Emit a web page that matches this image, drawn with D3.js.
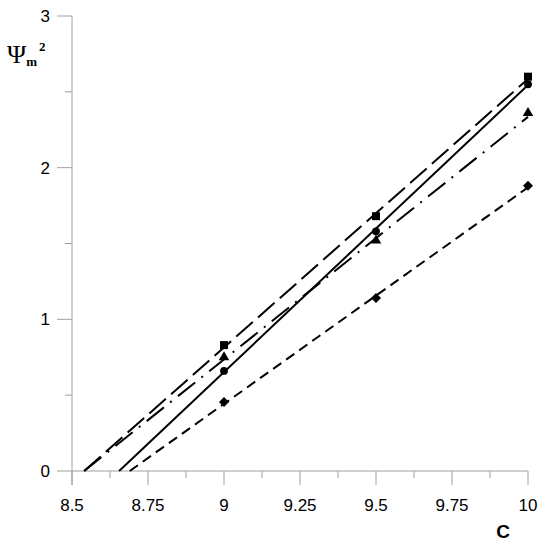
<!DOCTYPE html>
<html>
<head>
<meta charset="utf-8">
<script src="https://cdn.jsdelivr.net/npm/d3@7"></script>
<style>
  body { margin: 0; background: #fff; }
  svg { display: block; }
</style>
</head>
<body>
<div id="chart"></div>
<script>
// values
const cValues = [9, 9.5, 10];
const squareValues = [0.83, 1.68, 2.60];
const triangleValues = [0.75, 1.52, 2.36];
const circleValues = [0.66, 1.58, 2.55];
const diamondValues = [0.455, 1.14, 1.88];

// fitted lines, endpoints [c, psi]
const squareLine = [[8.54, 0], [10, 2.585]];
const triangleLine = [[8.54, 0], [10, 2.335]];
const circleLine = [[8.655, 0], [10, 2.545]];
const diamondLine = [[8.69, 0], [10, 1.87]];

const xTicks = [8.5, 8.75, 9, 9.25, 9.5, 9.75, 10];
const xMinorTicks = [8.625, 8.875, 9.125, 9.375, 9.625, 9.875];
const yTicks = [0, 1, 2, 3];
const yMinorTicks = [0.5, 1.5, 2.5];

const width = 548, height = 550;
const margin = { top: 16, right: 20, bottom: 79, left: 72 };

const svg = d3.select("#chart").append("svg")
    .attr("width", width)
    .attr("height", height);

const x = d3.scaleLinear().domain([8.5, 10]).range([margin.left, 528]);
const y = d3.scaleLinear().domain([0, 3]).range([471, margin.top]);

const axisColor = "#a0a0a0";
const font = "'Liberation Sans', Arial, sans-serif";

// y axis
let yAxis = svg.append("g").attr("transform", "translate(" + x(8.5) + ",0)");
yAxis.append("line")
    .attr("y1", y(3)).attr("y2", y(0) + 14)
    .attr("stroke", axisColor);
yAxis.selectAll(".major").data(yTicks).enter().append("line")
    .attr("x1", -15).attr("x2", 0)
    .attr("y1", d => y(d)).attr("y2", d => y(d))
    .attr("stroke", axisColor);
yAxis.selectAll(".minor").data(yMinorTicks).enter().append("line")
    .attr("x1", -7).attr("x2", 0)
    .attr("y1", d => y(d)).attr("y2", d => y(d))
    .attr("stroke", axisColor);
yAxis.selectAll("text").data(yTicks).enter().append("text")
    .attr("x", -22)
    .attr("y", d => y(d) + 6)
    .attr("text-anchor", "end")
    .attr("font-family", font)
    .attr("font-size", 17)
    .text(d => d);

// x axis
let xAxis = svg.append("g").attr("transform", "translate(0," + y(0) + ")");
xAxis.append("line")
    .attr("x1", x(8.5)).attr("x2", x(10))
    .attr("stroke", axisColor);
xAxis.selectAll(".major").data(xTicks).enter().append("line")
    .attr("x1", d => x(d)).attr("x2", d => x(d))
    .attr("y1", 0).attr("y2", 14)
    .attr("stroke", axisColor);
xAxis.selectAll(".minor").data(xMinorTicks).enter().append("line")
    .attr("x1", d => x(d)).attr("x2", d => x(d))
    .attr("y1", 0).attr("y2", 7)
    .attr("stroke", axisColor);
xAxis.selectAll("text").data(xTicks).enter().append("text")
    .attr("x", d => x(d))
    .attr("y", 40)
    .attr("text-anchor", "middle")
    .attr("font-family", font)
    .attr("font-size", 17)
    .text(d => d);

// axis titles
svg.append("text")
    .attr("x", 503).attr("y", 538)
    .attr("text-anchor", "middle")
    .attr("font-family", font)
    .attr("font-weight", "bold")
    .attr("font-size", 19)
    .text("C");

let yTitle = svg.append("text")
    .attr("x", 7).attr("y", 63)
    .attr("font-family", "'Liberation Serif', 'Times New Roman', serif");
yTitle.append("tspan").attr("font-size", 26).text("Ψ");
yTitle.append("tspan").attr("font-size", 13).attr("font-weight", "bold")
    .attr("dx", 0).attr("dy", 3).text("m");
yTitle.append("tspan").attr("font-size", 13).attr("font-weight", "bold")
    .attr("dx", 2).attr("dy", -15).text("2");

// lines
const line = d3.line().x(d => x(d[0])).y(d => y(d[1]));
const lines = [
    { pts: squareLine, dash: "22,7" },
    { pts: triangleLine, dash: "22,8,2,8" },
    { pts: circleLine, dash: null },
    { pts: diamondLine, dash: "10,6" }
];
svg.append("g").selectAll("path").data(lines).enter().append("path")
    .attr("d", d => line(d.pts))
    .attr("fill", "none")
    .attr("stroke", "#000")
    .attr("stroke-width", 2)
    .attr("stroke-dasharray", d => d.dash);

// markers (diamond = square turned 45 degrees)
const series = [
    { vals: squareValues, sym: d3.symbolSquare, size: 64, rot: 0 },
    { vals: triangleValues, sym: d3.symbolTriangle, size: 48, rot: 0 },
    { vals: circleValues, sym: d3.symbolCircle, size: 48, rot: 0 },
    { vals: diamondValues, sym: d3.symbolSquare, size: 50, rot: 45 }
];
series.forEach(s => {
    svg.append("g").selectAll("path")
        .data(s.vals)
        .enter().append("path")
        .attr("transform", (d, i) => "translate(" + x(cValues[i]) + "," + y(d) + ")rotate(" + s.rot + ")")
        .attr("d", d3.symbol().type(s.sym).size(s.size))
        .attr("fill", "#000");
});
</script>
</body>
</html>
